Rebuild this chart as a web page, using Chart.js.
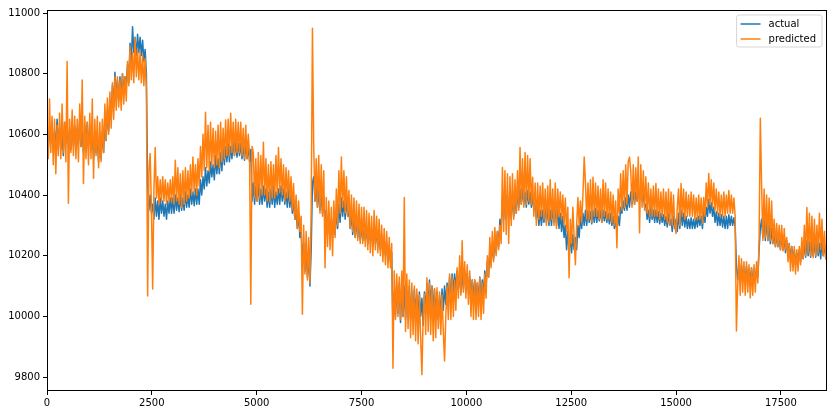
<!DOCTYPE html>
<html>
<head>
<meta charset="utf-8">
<script src="https://cdn.jsdelivr.net/npm/chart.js@4/dist/chart.umd.min.js"></script>
<style>
  html, body { margin: 0; padding: 0; background: #fff; }
  canvas { display: block; }
</style>
</head>
<body>
<canvas id="c" width="837" height="415"></canvas>
<script>
// spacing along x (index units) between read-off samples
const STEP = 30;
const seriesLabels = ['actual', 'predicted'];
const xTickValues = [0, 2500, 5000, 7500, 10000, 12500, 15000, 17500];
const yTickValues = [9800, 10000, 10200, 10400, 10600, 10800, 11000];

const actual = [
  10630,10550,10620,10570,10640,10540,10610,10560,10650,10580,10620,10550,10600,10530,10640,10570,10630,10560,10610,10550,
  10640,10560,10630,10550,10620,10570,10650,10560,10610,10540,10630,10560,10640,10570,10610,10550,10600,10520,10590,10540,
  10590,10510,10600,10520,10610,10540,10650,10580,10680,10610,10700,10650,10760,10690,10805,10720,10780,10710,10790,10730,
  10800,10740,10790,10760,10830,10770,10900,10840,10955,10870,10920,10860,10930,10870,10920,10860,10910,10840,10880,10800,
  10420,10350,10400,10340,10370,10320,10390,10330,10380,10320,10390,10340,10380,10330,10370,10320,10380,10340,10390,10340,
  10390,10340,10400,10350,10390,10345,10400,10350,10390,10350,10410,10360,10400,10360,10420,10370,10410,10365,10420,10370,
  10420,10370,10450,10400,10460,10420,10490,10430,10480,10440,10510,10460,10500,10450,10530,10470,10520,10470,10540,10480,
  10560,10500,10560,10510,10570,10510,10560,10520,10580,10530,10575,10525,10570,10530,10570,10520,10565,10515,10570,10520,
  10560,10510,10550,10380,10440,10370,10430,10380,10440,10370,10420,10370,10430,10380,10420,10360,10410,10360,10420,10370,
  10430,10360,10410,10370,10420,10370,10430,10380,10420,10370,10410,10360,10420,10360,10400,10340,10380,10320,10340,10290,
  10340,10260,10280,10200,10240,10150,10220,10130,10200,10100,10220,10440,10460,10380,10430,10360,10420,10350,10400,10340,
  10390,10310,10350,10270,10340,10260,10320,10260,10330,10270,10350,10290,10370,10310,10390,10330,10380,10320,10390,10330,
  10350,10290,10340,10270,10330,10260,10320,10260,10310,10250,10300,10250,10310,10250,10290,10240,10290,10250,10280,10230,
  10300,10240,10280,10230,10270,10220,10270,10210,10250,10200,10240,10190,10230,10180,10210,9960,10080,10000,10100,10010,
  10110,9980,10090,10000,10100,9990,10080,10000,10100,9990,10080,10000,10090,10010,10070,10000,10080,10000,10060,9970,
  10080,10020,10110,10030,10120,10040,10100,10020,10090,10000,10080,9990,10070,10000,10090,10020,10100,10040,10110,10050,
  10130,10060,10140,10080,10140,10090,10150,10090,10140,10080,10140,10090,10150,10100,10140,10080,10130,10070,10120,10060,
  10120,10050,10110,10050,10130,10060,10120,10070,10150,10100,10180,10130,10220,10170,10240,10190,10260,10210,10280,10230,
  10320,10280,10390,10320,10400,10320,10400,10330,10390,10320,10400,10330,10390,10340,10410,10360,10420,10370,10420,10370,
  10410,10360,10415,10370,10410,10360,10400,10350,10380,10320,10360,10300,10350,10300,10350,10310,10360,10310,10360,10300,
  10350,10300,10360,10310,10360,10300,10350,10290,10340,10280,10330,10260,10300,10220,10280,10210,10260,10210,10270,10220,
  10260,10220,10300,10260,10330,10290,10340,10300,10350,10300,10350,10310,10345,10305,10350,10310,10355,10310,10350,10315,
  10350,10310,10350,10315,10345,10310,10340,10305,10340,10300,10330,10290,10320,10280,10330,10300,10360,10340,10380,10350,
  10390,10350,10400,10360,10410,10370,10415,10370,10410,10380,10420,10385,10410,10380,10405,10360,10370,10320,10350,10310,
  10360,10320,10350,10310,10350,10310,10345,10305,10340,10310,10335,10300,10330,10295,10340,10300,10320,10280,10330,10290,
  10320,10280,10340,10290,10350,10300,10340,10295,10330,10290,10320,10290,10325,10290,10320,10290,10325,10295,10330,10300,
  10330,10290,10345,10310,10360,10330,10385,10340,10375,10330,10360,10310,10345,10300,10340,10300,10335,10295,10330,10290,
  10330,10290,10335,10300,10330,10300,10325,10295,10170,10120,10165,10120,10170,10125,10160,10120,10165,10120,10155,10115,
  10160,10115,10150,10120,10160,10130,10220,10290,10320,10260,10330,10250,10320,10250,10300,10240,10290,10240,10280,10230,
  10270,10230,10270,10220,10270,10220,10260,10210,10250,10200,10240,10190,10230,10180,10220,10170,10210,10170,10220,10180,
  10230,10190,10240,10195,10250,10200,10245,10195,10250,10200,10245,10195,10250,10200,10240,10190,10250,10200,10240,10190,
  10210
];

const predicted = [
  10640,10520,10717,10540,10660,10500,10650,10470,10630,10530,10670,10520,10700,10540,10640,10510,10840,10373,10650,10540,
  10680,10530,10660,10520,10650,10510,10700,10560,10779,10438,10660,10520,10640,10500,10670,10520,10717,10455,10650,10530,
  10660,10490,10640,10510,10650,10540,10700,10580,10720,10600,10740,10620,10770,10650,10790,10680,10790,10690,10780,10680,
  10800,10700,10790,10710,10840,10760,10890,10780,10870,10770,10918,10790,10880,10780,10870,10770,10860,10760,10850,10750,
  10067,10480,10537,10360,10090,10420,10557,10390,10460,10370,10450,10380,10460,10380,10450,10370,10440,10380,10450,10380,
  10460,10370,10515,10380,10490,10370,10470,10360,10480,10370,10490,10380,10480,10390,10500,10400,10525,10410,10500,10400,
  10520,10430,10560,10460,10600,10480,10673,10490,10630,10480,10640,10500,10620,10490,10610,10500,10630,10490,10640,10510,
  10620,10520,10647,10530,10650,10530,10670,10540,10640,10530,10650,10540,10640,10540,10640,10530,10620,10520,10630,10520,
  10600,10530,10040,10560,10540,10390,10520,10380,10540,10390,10530,10400,10574,10400,10520,10380,10500,10380,10510,10390,
  10500,10390,10530,10400,10557,10410,10520,10400,10500,10380,10490,10390,10480,10380,10460,10350,10438,10320,10400,10290,
  10380,10280,10330,10007,10300,10140,10280,10120,10260,10110,10349,10950,10557,10380,10520,10360,10530,10340,10500,10330,
  10480,10160,10392,10230,10380,10220,10360,10200,10380,10260,10420,10300,10480,10340,10525,10360,10480,10340,10460,10330,
  10415,10290,10400,10280,10390,10260,10380,10250,10370,10240,10360,10240,10360,10230,10349,10220,10340,10210,10330,10200,
  10349,10220,10330,10210,10320,10200,10300,10180,10290,10170,10280,10160,10260,10160,10240,9829,10150,9990,10140,10000,
  10130,9990,10150,10000,10392,9950,10140,9960,10120,9930,10110,9940,10100,9920,10090,9910,10070,9930,9808,10000,
  10073,9940,10127,9950,10110,9940,10100,9920,10090,9930,10094,9960,10080,9940,10070,9950,9853,10000,10100,9990,
  10140,9990,10130,10000,10120,10020,10160,10060,10200,10070,10249,10080,10180,10060,10170,10040,10150,10000,10120,9990,
  10120,9990,10110,10000,10127,9990,10110,10010,10140,10060,10200,10130,10260,10160,10280,10180,10293,10200,10280,10220,
  10300,10240,10491,10280,10480,10270,10470,10240,10460,10300,10470,10320,10450,10340,10480,10350,10557,10370,10520,10360,
  10540,10370,10530,10380,10520,10370,10459,10330,10440,10300,10440,10320,10430,10330,10440,10320,10420,10300,10430,10310,
  10450,10320,10420,10300,10440,10290,10420,10330,10410,10320,10400,10300,10390,10280,10360,10127,10320,10240,10360,10260,
  10170,10300,10392,10300,10380,10310,10400,10525,10440,10320,10440,10320,10450,10310,10459,10330,10440,10330,10430,10320,
  10420,10310,10450,10330,10440,10320,10420,10320,10410,10310,10400,10300,10380,10226,10420,10340,10470,10350,10480,10360,
  10500,10370,10510,10525,10480,10360,10500,10370,10490,10380,10525,10276,10500,10360,10480,10350,10460,10340,10440,10330,
  10420,10330,10430,10330,10438,10330,10420,10320,10410,10330,10420,10320,10410,10310,10420,10300,10410,10300,10400,10300,
  10273,10360,10420,10300,10438,10330,10420,10320,10410,10330,10400,10330,10410,10330,10400,10320,10390,10320,10400,10320,
  10390,10306,10392,10330,10440,10360,10471,10370,10450,10360,10440,10350,10420,10340,10410,10330,10400,10330,10410,10330,
  10400,10340,10415,10340,10400,10340,10390,10330,9952,10100,10200,10070,10190,10080,10180,10070,10180,10080,10170,10061,
  10160,10070,10170,10080,10180,10110,10240,10653,10438,10250,10420,10260,10400,10250,10390,10250,10380,10240,10320,10230,
  10306,10230,10300,10220,10300,10216,10290,10220,10260,10180,10239,10150,10230,10150,10230,10140,10220,10150,10230,10170,
  10260,10190,10300,10200,10359,10210,10340,10200,10330,10193,10320,10200,10300,10210,10340,10220,10320,10200,10280,10190,
  10240
];

const sampleIndex = actual.map((_, i) => i * STEP);
const toPoints = arr => arr.map((v, i) => ({ x: sampleIndex[i], y: v }));

const FONT = { family: 'DejaVu Sans', size: 10 };

const frameAndLegend = {
  id: 'frameAndLegend',
  afterDraw(chart) {
    const { ctx, chartArea: a } = chart;
    ctx.save();
    ctx.strokeStyle = '#000';
    ctx.lineWidth = 1;
    ctx.strokeRect(Math.round(a.left) + 0.5, Math.round(a.top) + 0.5,
                   Math.round(a.right - a.left) - 1, Math.round(a.bottom - a.top) - 1);
    const ds = chart.data.datasets;
    ctx.font = '10px "DejaVu Sans"';
    let tw = 0;
    ds.forEach(d => { tw = Math.max(tw, ctx.measureText(d.label).width); });
    const w = 4 + 20 + 8 + tw + 4 + 2, h = 32;
    const x = a.right - 5 - w, y = a.top + 5;
    ctx.beginPath();
    const r = 2.5;
    ctx.moveTo(x + r, y);
    ctx.arcTo(x + w, y, x + w, y + h, r);
    ctx.arcTo(x + w, y + h, x, y + h, r);
    ctx.arcTo(x, y + h, x, y, r);
    ctx.arcTo(x, y, x + w, y, r);
    ctx.closePath();
    ctx.fillStyle = 'rgba(255,255,255,0.8)';
    ctx.fill();
    ctx.strokeStyle = 'rgba(204,204,204,0.8)';
    ctx.lineWidth = 1;
    ctx.stroke();
    ds.forEach((d, i) => {
      const ly = y + 9 + i * 15;
      ctx.strokeStyle = d.borderColor;
      ctx.lineWidth = 1.5;
      ctx.beginPath();
      ctx.moveTo(x + 4, ly);
      ctx.lineTo(x + 24, ly);
      ctx.stroke();
      ctx.fillStyle = '#000';
      ctx.textBaseline = 'middle';
      ctx.textAlign = 'left';
      ctx.fillText(d.label, x + 32, ly + 0.5);
    });
    ctx.restore();
  }
};

new Chart(document.getElementById('c'), {
  type: 'line',
  data: {
    datasets: [
      { label: seriesLabels[0], data: toPoints(actual), borderColor: '#1f77b4',
        backgroundColor: '#1f77b4', borderWidth: 1.5, pointRadius: 0, order: 1,
        borderJoinStyle: 'round', tension: 0, fill: false },
      { label: seriesLabels[1], data: toPoints(predicted), borderColor: '#ff7f0e',
        backgroundColor: '#ff7f0e', borderWidth: 1.5, pointRadius: 0, order: 0,
        borderJoinStyle: 'round', tension: 0, fill: false }
    ]
  },
  options: {
    responsive: false,
    animation: false,
    devicePixelRatio: 1,
    layout: { padding: { top: 10, right: 10, left: 0, bottom: 0 } },
    plugins: { legend: { display: false }, tooltip: { enabled: false } },
    scales: {
      x: {
        type: 'linear', min: 0, max: 18600,
        afterBuildTicks: s => { s.ticks = xTickValues.map(v => ({ value: v })); },
        afterFit: s => { s.height = 24; },
        ticks: { autoSkip: false, maxRotation: 0, color: '#000', font: FONT, padding: 2,
                 callback: v => String(v) },
        grid: { drawOnChartArea: false, drawTicks: true, tickLength: 4, color: '#000' },
        border: { display: false }
      },
      y: {
        type: 'linear', min: 9754, max: 11010,
        afterBuildTicks: s => { s.ticks = yTickValues.map(v => ({ value: v })); },
        afterFit: s => { s.width = 47; },
        ticks: { autoSkip: false, color: '#000', font: FONT, padding: 3,
                 callback: v => String(v) },
        grid: { drawOnChartArea: false, drawTicks: true, tickLength: 4, color: '#000' },
        border: { display: false }
      }
    }
  },
  plugins: [frameAndLegend]
});
</script>
</body>
</html>
